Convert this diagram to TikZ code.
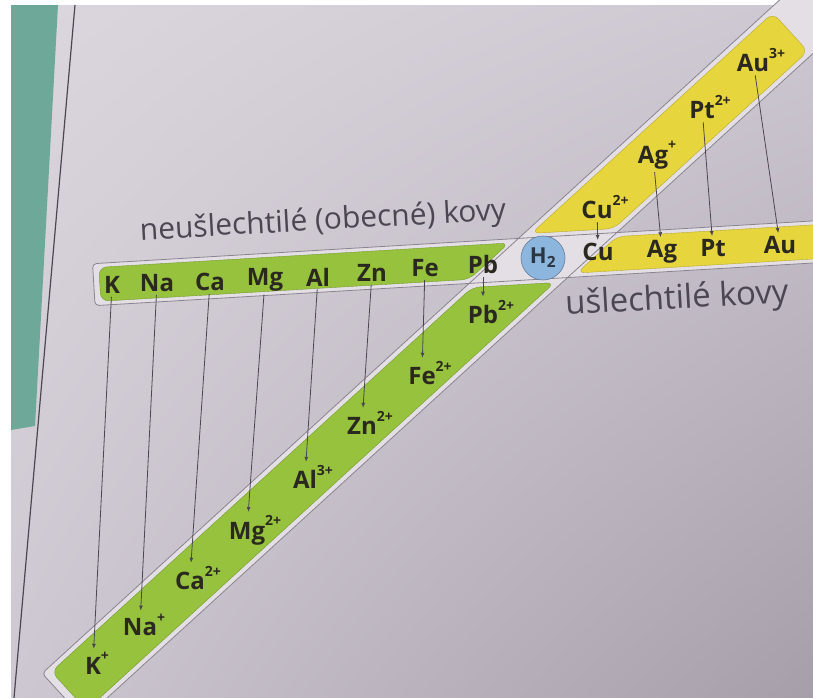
\documentclass[tikz,border=0pt]{standalone}
\usepackage{fontspec}
\setmainfont{Open Sans}
\usetikzlibrary{arrows.meta, positioning, calc, shadings}
\definecolor{cgreen}{HTML}{96C23E}
\definecolor{cyellow}{HTML}{E6D53C}
\definecolor{cblue}{HTML}{8DB6DE}
\definecolor{cteal}{HTML}{6EA898}
\definecolor{cink}{HTML}{2A281F}
\definecolor{cgrey}{HTML}{4B4652}
\definecolor{cline}{HTML}{8A8490}
\definecolor{cpale}{HTML}{E3DFE4}
\definecolor{cpageA}{HTML}{DCD6DE}
\definecolor{cpageB}{HTML}{CEC8D2}
\definecolor{cpageC}{HTML}{A69EA9}
\newcommand{\chg}[1]{\rlap{\raisebox{1.05ex}{\fontsize{14}{14}\selectfont #1}}}
\tikzset{
  metal/.style={font=\fontsize{24}{26}\selectfont\bfseries, text=cink, inner sep=3pt},
  ion/.style={metal},
  conn/.style={-{Latex[length=5pt, width=4pt]}, draw=cgrey, line width=0.8pt},
  band/.style={fill=#1, draw=#1!80!black, line width=0.4pt, rounded corners=8pt},
  note/.style={font=\fontsize{#1}{#1}\selectfont, text=cgrey},
  note/.default=30,
}

\begin{document}
\begin{tikzpicture}[x=1pt, y=1pt]
  \useasboundingbox (0,0) rectangle (813,698);
  \clip (0,0) rectangle (813,698);
  % page of the book
  \shade[upper left=cpageA, upper right=cpageB, lower left=cpageB, lower right=cpageC] (0,0) rectangle (813,698);
  \fill[cteal] (11,693) -- (58,693) -- (35,272) -- (11,268) -- cycle;
  \fill[white] (0,0) rectangle (11,698);
  \fill[white] (0,693) rectangle (813,698);
  \draw[cgrey, line width=1.2pt] (75,693) -- (14,0);

  % crossing frames, H2 in the middle
  \begin{scope}[shift={(543,440)}]
    \fill[cpale, rotate=42.4, rounded corners=4pt] (-650,-31) rectangle (500,31);
    \fill[cpale, rotate=3.4, rounded corners=4pt] (-450,-21) rectangle (400,21);
    \draw[cline, line width=0.8pt, rotate=42.4, rounded corners=4pt] (-650,-31) rectangle (500,31);
    \draw[cline, line width=0.8pt, rotate=3.4, rounded corners=4pt] (-450,-21) rectangle (400,21);
    \path[band=cgreen, rotate=3.4] (-444,-17) -- (-75,-17) -- (-33,17) -- (-444,17) -- cycle;
    \path[band=cgreen, rotate=42.4] (-642,-26) -- (-8,-26) -- (-72,26) -- (-642,26) -- cycle;
    \path[band=cyellow, rotate=3.4] (33,-17) -- (400,-17) -- (400,17) -- (75,17) -- cycle;
    \path[band=cyellow, rotate=42.4] (8,26) -- (72,-26) -- (335,-26) -- (335,26) -- cycle;
    \node[circle, fill=cblue, draw=cblue!70!black, line width=0.6pt, minimum size=44pt, inner sep=0pt,
      font=\fontsize{22}{24}\selectfont\bfseries, text=cblue!30!black] (H2) at (0,0) {H\textsubscript{2}};
  \end{scope}

  % metals
  \foreach \el/\x/\y in {K/112/413, Na/157/415, Ca/210/416, Mg/265/418, Al/318/421, Zn/372/425,
      Fe/425/430, Pb/483/433, Cu/598/446, Ag/662/446, Pt/713/450, Au/780/453}
    \node[metal] (\el) at (\x,\y) {\el};
  % ions
  \foreach \el/\q/\x/\y in {K/+/93/35, Na/+/140/73, Ca/2+/190/120, Mg/2+/247/168, Al/3+/305/221,
      Zn/2+/362/275, Fe/2+/422/325, Pb/2+/483/386, Cu/2+/597/491, Ag/+/653/543, Pt/2+/702/591, Au/3+/753/638}
    \node[ion] (ion\el) at (\x,\y) {\el\chg{\q}};

  \foreach \el in {K, Na, Ca, Mg, Al, Zn, Fe, Pb}
    \draw[conn] (\el) -- (ion\el);
  \foreach \el in {Cu, Ag, Pt, Au}
    \draw[conn] (ion\el) -- (\el);

  \node[note, rotate=3.2] (base) at (323,476) {neušlechtilé (obecné) kovy};
  \node[note=33, rotate=3.2] (noble) at (677,398) {ušlechtilé kovy};
\end{tikzpicture}
\end{document}
